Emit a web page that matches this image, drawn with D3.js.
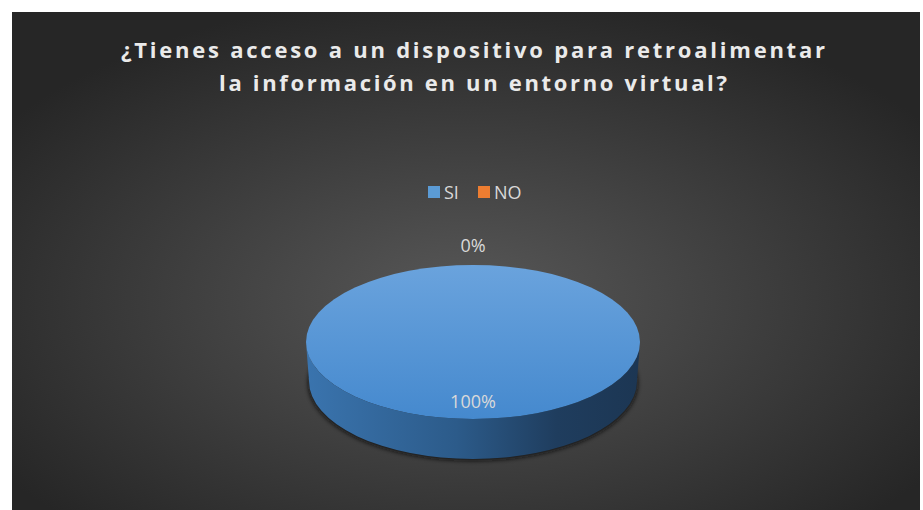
<!DOCTYPE html>
<html>
<head>
<meta charset="utf-8">
<script src="https://cdn.jsdelivr.net/npm/d3@7"></script>
<style>
  html, body { margin: 0; padding: 0; background: #fff; }
  svg { display: block; }
  text { font-family: "Open Sans", "Liberation Sans", sans-serif; }
</style>
</head>
<body>
<div id="chart"></div>
<script>
'use strict'

// data
const categories = ['SI', 'NO']
const values = [100, 0]
const colors = ['#5b9bd5', '#ed7d31']
const titleLines = ['¿Tienes acceso a un dispositivo para retroalimentar', 'la información en un entorno virtual?']

const svgWidth = 923, svgHeight = 510
const svg = d3.select('#chart').append('svg')
    .attr('width', svgWidth)
    .attr('height', svgHeight)

const defs = svg.append('defs')

// background gradient
const bg = defs.append('radialGradient').attr('id', 'bg')
    .attr('cx', '50%').attr('cy', '58%').attr('r', '62%')
bg.append('stop').attr('offset', '0%').attr('stop-color', '#585858')
bg.append('stop').attr('offset', '100%').attr('stop-color', '#262626')

svg.append('rect')
    .attr('x', 12).attr('y', 12)
    .attr('width', 908).attr('height', 498)
    .attr('fill', 'url(#bg)')

// title
const title = svg.append('g')
titleLines.forEach((t, i) => {
    title.append('text')
        .attr('x', 473)
        .attr('y', 58 + i * 33)
        .attr('text-anchor', 'middle')
        .attr('fill', '#eaeaea')
        .attr('font-size', 22)
        .attr('font-weight', 'bold')
        .attr('textLength', i == 0 ? 704 : 508)
        .attr('lengthAdjust', 'spacing')
        .text(t)
})

// legend
const legendX = d3.scalePoint().domain(categories).range([428, 478])
const legend = svg.append('g')
    .selectAll('g')
    .data(categories)
    .join('g')
    .attr('transform', d => `translate(${legendX(d)},186)`)
legend.append('rect')
    .attr('width', 12).attr('height', 12)
    .attr('fill', (d, i) => colors[i])
legend.append('text')
    .attr('x', 16).attr('y', 13)
    .attr('fill', '#d9d9d9')
    .attr('font-size', 18)
    .text(d => d)

// 3d pie
const cx = 473, cy = 342, rx = 167, ry = 77, depth = 39

const pie = d3.pie().sort(null).value(d => d.value)
const arcs = pie(categories.map((c, i) => ({ name: c, value: values[i], color: colors[i] })))

const topGrad = defs.append('linearGradient').attr('id', 'topGrad')
    .attr('x1', 0).attr('y1', 0).attr('x2', 0).attr('y2', 1)
topGrad.append('stop').attr('offset', '0%').attr('stop-color', '#6aa3dd')
topGrad.append('stop').attr('offset', '100%').attr('stop-color', '#4589ce')

const sideGrad = defs.append('linearGradient').attr('id', 'sideGrad')
    .attr('x1', 0).attr('y1', 0).attr('x2', 1).attr('y2', 0)
sideGrad.append('stop').attr('offset', '0%').attr('stop-color', '#3a74ae')
sideGrad.append('stop').attr('offset', '45%').attr('stop-color', '#2c5b8a')
sideGrad.append('stop').attr('offset', '75%').attr('stop-color', '#1f3d5e')
sideGrad.append('stop').attr('offset', '100%').attr('stop-color', '#1c3653')

const blur = defs.append('filter').attr('id', 'shadow')
    .attr('x', '-10%').attr('y', '-10%').attr('width', '120%').attr('height', '130%')
blur.append('feGaussianBlur').attr('stdDeviation', 2)

const pieG = svg.append('g')

// shadow under the cylinder
pieG.append('ellipse')
    .attr('cx', cx).attr('cy', cy + depth + 2)
    .attr('rx', rx - 2).attr('ry', ry + 1)
    .attr('fill', '#111')
    .attr('opacity', 0.8)
    .attr('filter', 'url(#shadow)')

// side wall (front half only)
const sidePath = `M${cx - rx},${cy} A${rx},${ry} 0 0 0 ${cx + rx},${cy} L${cx + rx - 3},${cy + depth} A${rx - 3},${ry + 1} 0 0 1 ${cx - rx + 3},${cy + depth} Z`
arcs.filter(d => d.value > 0).forEach(d => {
    pieG.append('path')
        .attr('d', sidePath)
        .attr('fill', 'url(#sideGrad)')
})

// top face: circular arcs squashed into an ellipse
const arc = d3.arc().innerRadius(0).outerRadius(rx)
pieG.append('g')
    .attr('transform', `translate(${cx},${cy}) scale(1,${ry / rx})`)
    .selectAll('path')
    .data(arcs)
    .join('path')
    .attr('d', arc)
    .attr('fill', d => d.index == 0 ? 'url(#topGrad)' : d.data.color)

// data labels
const total = d3.sum(values)
const labelPos = d => {
    const a = (d.startAngle + d.endAngle) / 2
    const f = d.value > 0 ? 0.78 : 1.25
    return [cx + Math.sin(a) * rx * f, cy - Math.cos(a) * ry * f]
}
pieG.append('g')
    .selectAll('text')
    .data(arcs)
    .join('text')
    .attr('x', d => labelPos(d)[0])
    .attr('y', d => labelPos(d)[1])
    .attr('dy', '0.35em')
    .attr('text-anchor', 'middle')
    .attr('fill', '#d9d9d9')
    .attr('font-size', 18)
    .text(d => Math.round(d.value / total * 100) + '%')
</script>
</body>
</html>
